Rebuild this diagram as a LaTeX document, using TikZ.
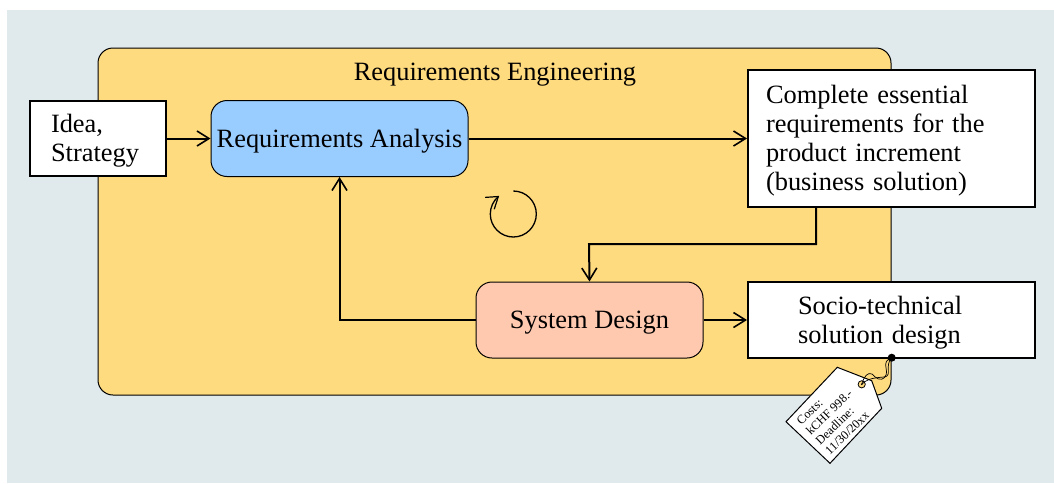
\documentclass[tikz,border=0pt]{standalone}
\usepackage{fontspec}
\setmainfont{Liberation Serif}
\usetikzlibrary{arrows.meta,bending,positioning}
\definecolor{panelc}{HTML}{E0E9EC}
\definecolor{yellowc}{HTML}{FFDB7F}
\definecolor{bluec}{HTML}{99CCFF}
\definecolor{peachc}{HTML}{FFC9B0}
\newcommand{\lowtxt}[1]{\raisebox{-2.4pt}[\height][\depth]{#1}}
\tikzset{
  x=1pt,y=-1pt,
  bigtext/.style={font=\fontsize{26.4}{29}\selectfont},
  whitebox/.style={draw=black,fill=white,line width=2pt,inner sep=0pt,align=left,bigtext},
  procbox/.style={draw=black,line width=1pt,rounded corners=16pt,inner sep=0pt,align=center,bigtext},
  conn/.style={draw=black,line width=2pt,-{Straight Barb[length=12pt,width=15pt,line width=1.6pt]}},
}
\begin{document}
\begin{tikzpicture}
\useasboundingbox (0,0) rectangle (1054,483);
\fill[panelc] (7,10) rectangle (1054,483);
\node[draw=black,fill=yellowc,line width=1pt,rounded corners=15pt,minimum width=793pt,minimum height=347pt,inner sep=0pt] (re) at (494.5,221.5) {};
\node[bigtext,inner sep=0pt,anchor=base] (title) at (495,80) {Requirements Engineering};
\node[whitebox,minimum width=136pt,minimum height=75pt,text width=94pt] (idea) at (98,138.5) {\lowtxt{Idea,}\\\lowtxt{Strategy}};
\node[procbox,fill=bluec,minimum width=257pt,minimum height=76pt] (ra) at (339.5,138.5) {\lowtxt{Requirements Analysis}};
\node[whitebox,minimum width=287pt,minimum height=137pt,text width=251pt] (ce) at (891.5,138.5) {\lowtxt{Complete essential}\\\lowtxt{requirements for the}\\\lowtxt{product increment}\\\lowtxt{(business solution)}};
\node[procbox,fill=peachc,minimum width=227pt,minimum height=76pt] (sd) at (589.5,320) {\lowtxt{System Design}};
\node[whitebox,minimum width=287pt,minimum height=76pt,text width=187pt] (st) at (891.5,320) {\lowtxt{Socio-technical}\\\lowtxt{solution design}};
\coordinate (cedown) at (816,207);
\draw[conn] (idea.east) -- (ra.west);
\draw[conn] (ra.east) -- (ce.west);
\draw[conn] (cedown) |- (589,244) -- (sd.north);
\draw[conn] (sd.west) -| (ra.south);
\draw[conn] (sd.east) -- (st.west);
\coordinate (loopstart) at (513.3,191);
\draw[line width=1.3pt,-{Straight Barb[length=11pt,width=15pt,line width=1.2pt,flex=0]}] (loopstart) arc[start angle=90,end angle=-232,radius=23pt];
% price tag
\fill[black] (891.7,357.7) circle[radius=4pt] coordinate (pin);
\draw[black,line width=1pt,fill=white] (837.3,367.3) -- (871.7,380.7) -- (881.7,408.3) -- (830,463.3) -- (786,421.7) -- cycle;
\coordinate (hole) at (861.7,384.3);
\draw[black,line width=0.8pt,fill=yellowc] (hole) circle[radius=3.6pt];
\fill[black] (hole) circle[radius=0.8pt];
\draw[black,line width=0.7pt] (hole) .. controls (866,380) and (870,378) .. (884,377) .. controls (893,376) and (884,366) .. (pin);
\draw[black,line width=0.7pt] (hole) .. controls (864,376) and (868,372) .. (872,374) .. controls (876,378) and (880,382) .. (885,377) .. controls (890,370) and (880,362) .. (pin);
\node[font=\fontsize{12.3}{13.7}\selectfont,rotate=44,align=left,inner sep=0pt] (tagtext) at (834,417) {Costs:\\kCHF 998.-\\Deadline:\\11/30/20xx};
\end{tikzpicture}
\end{document}
